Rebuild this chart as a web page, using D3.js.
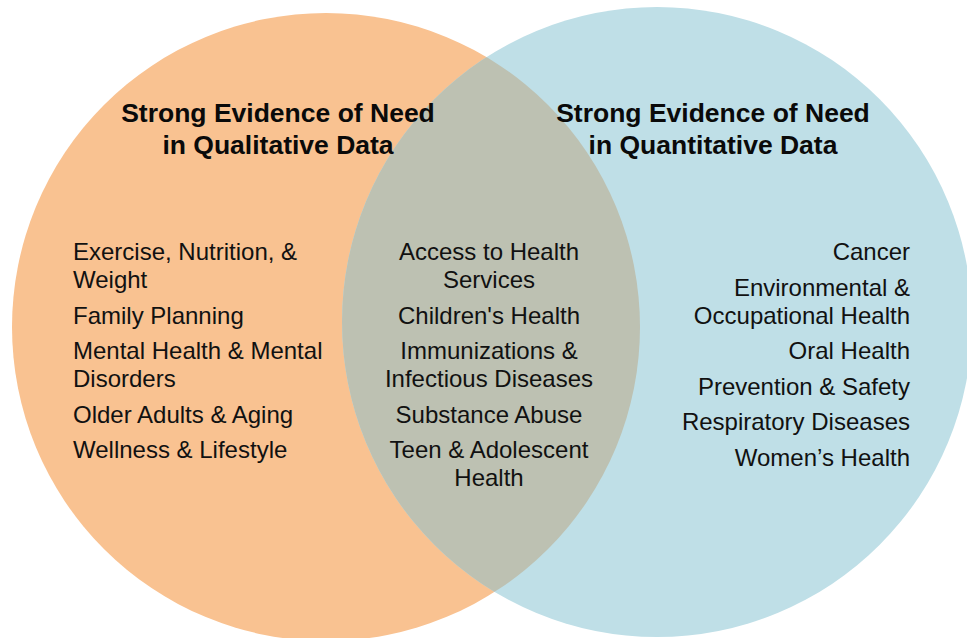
<!DOCTYPE html>
<html>
<head>
<meta charset="utf-8">
<script src="https://cdn.jsdelivr.net/npm/d3@7"></script>
<style>
  html, body { margin: 0; padding: 0; background: #fff; }
  svg { display: block; }
</style>
</head>
<body>
<div id="chart"></div>
<script>
// sets of the venn diagram
const setNames = ["Qualitative", "Quantitative"];
const setColors = ["#f9c291", "#bfdfe7"];
const overlapColor = "#bdc1b2";

const titleLeft = ["Strong Evidence of Need", "in Qualitative Data"];
const titleRight = ["Strong Evidence of Need", "in Quantitative Data"];

// each item is a list of its wrapped lines
const leftItems = [
    ["Exercise, Nutrition, &", "Weight"],
    ["Family Planning"],
    ["Mental Health & Mental", "Disorders"],
    ["Older Adults & Aging"],
    ["Wellness & Lifestyle"]
];
const middleItems = [
    ["Access to Health", "Services"],
    ["Children's Health"],
    ["Immunizations &", "Infectious Diseases"],
    ["Substance Abuse"],
    ["Teen & Adolescent", "Health"]
];
const rightItems = [
    ["Cancer"],
    ["Environmental &", "Occupational Health"],
    ["Oral Health"],
    ["Prevention & Safety"],
    ["Respiratory Diseases"],
    ["Women\u2019s Health"]
];

const width = 967, height = 638;
const fontFamily = "Arial, 'Liberation Sans', Helvetica, sans-serif";

const svg = d3.select("#chart").append("svg")
    .attr("width", width)
    .attr("height", height);

// circles
const circles = [
    { cx: 326, cy: 327, r: 314 },
    { cx: 657, cy: 322, r: 315 }
];

svg.append("defs").append("clipPath")
    .attr("id", "clipLeft")
    .append("circle")
    .attr("cx", circles[0].cx)
    .attr("cy", circles[0].cy)
    .attr("r", circles[0].r);

svg.selectAll(".set")
    .data(circles)
    .enter()
    .append("circle")
    .attr("class", "set")
    .attr("cx", d => d.cx)
    .attr("cy", d => d.cy)
    .attr("r", d => d.r)
    .attr("fill", (d, i) => setColors[i]);

// overlap region
svg.append("circle")
    .attr("cx", circles[1].cx)
    .attr("cy", circles[1].cy)
    .attr("r", circles[1].r)
    .attr("clip-path", "url(#clipLeft)")
    .attr("fill", overlapColor);

// titles
function drawTitle(lines, x) {
    svg.append("g").selectAll("text")
        .data(lines)
        .enter()
        .append("text")
        .attr("x", x)
        .attr("y", (d, i) => 122 + i * 31.5)
        .attr("text-anchor", "middle")
        .attr("font-family", fontFamily)
        .attr("fill", "#0a0a0a")
        .style("font-size", "26.5px")
        .style("font-weight", "bold")
        .text(d => d);
}
drawTitle(titleLeft, 278);
drawTitle(titleRight, 713);

// item lists
function drawItems(items, x, anchor) {
    const lines = [];
    let extra = 0;
    items.forEach((item, i) => {
        item.forEach((line, j) => {
            lines.push({ text: line, y: 260 + i * 35.5 + (extra + j) * 28 });
        });
        extra += item.length - 1;
    });
    svg.append("g").selectAll("text")
        .data(lines)
        .enter()
        .append("text")
        .attr("x", x)
        .attr("y", d => d.y)
        .attr("text-anchor", anchor)
        .attr("font-family", fontFamily)
        .attr("fill", "#111")
        .style("font-size", "24px")
        .text(d => d.text);
}
drawItems(leftItems, 73, "start");
drawItems(middleItems, 489, "middle");
drawItems(rightItems, 910, "end");
</script>
</body>
</html>
